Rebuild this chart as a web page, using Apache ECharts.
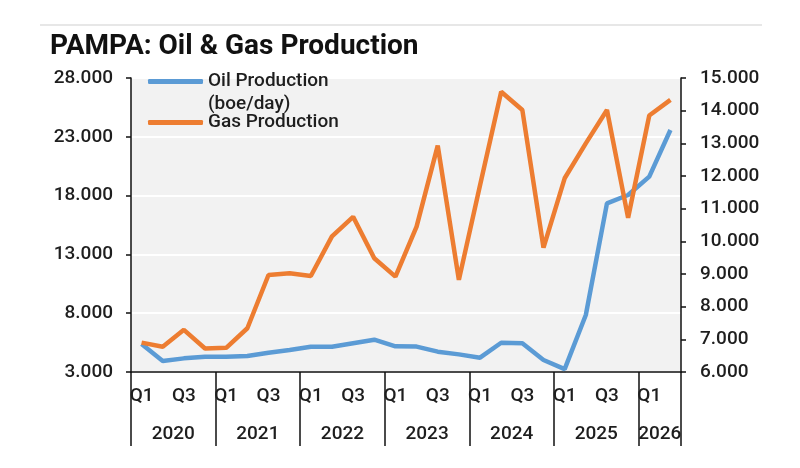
<!DOCTYPE html>
<html>
<head>
<meta charset="utf-8">
<script src="https://cdn.jsdelivr.net/npm/echarts@6/dist/echarts.min.js"></script>
<style>
  html, body { margin: 0; padding: 0; background: #fff; }
  #container { width: 800px; height: 468px; }
</style>
</head>
<body>
<div id="container"></div>
<script>
// quarters Q1 2020 .. Q2 2026
let quarters = ['Q1','Q2','Q3','Q4','Q1','Q2','Q3','Q4','Q1','Q2','Q3','Q4',
                'Q1','Q2','Q3','Q4','Q1','Q2','Q3','Q4','Q1','Q2','Q3','Q4','Q1','Q2'];
let years = ['2020','2021','2022','2023','2024','2025','2026'];
let quartersInYear = [4, 4, 4, 4, 4, 4, 2];

// left axis, boe/day
let oilProduction = [5380, 3940, 4160, 4300, 4300, 4360, 4640, 4870, 5150, 5150, 5450, 5750, 5180,
                     5160, 4730, 4500, 4220, 5490, 5440, 4020, 3250, 7850, 17340, 18050, 19610, 23580];
// right axis
let gasProduction = [6900, 6775, 7290, 6720, 6740, 7340, 8970, 9020, 8940, 10150, 10750, 9480, 8920,
                     10450, 12930, 8820, 11720, 14580, 14020, 9810, 11930, 13000, 14020, 10720, 13850, 14330];

let leftTicks = { min: 3000, max: 28000, interval: 5000 };
let rightTicks = { min: 6000, max: 15000, interval: 1000 };

// one year entry per quarter, plus where each year starts / where its label sits
let yearCats = [];
let yearStarts = {};
let yearLabelAt = {};
years.forEach(function (y, k) {
    let start = yearCats.length;
    yearStarts[start] = true;
    yearLabelAt[start + Math.floor(quartersInYear[k] / 2) - 1] = true;
    for (let q = 0; q < quartersInYear[k]; q++) yearCats.push(y);
});

function fmt(v) {
    return String(v).replace(/\B(?=(\d{3})+(?!\d))/g, '.');
}

let font = 'Roboto';
let ink = '#1e1e1e';
let txt = { fontFamily: font, fontSize: 19, fontWeight: 500, color: ink };

let dom = document.getElementById('container');
let myChart = echarts.init(dom);
let option = {
    animation: false,
    graphic: [{
        type: 'line',
        shape: { x1: 40, y1: 25, x2: 762, y2: 25 },
        style: { stroke: '#cfcfcf', lineWidth: 1 }
    }],
    title: {
        text: 'PAMPA: Oil & Gas Production',
        left: 50,
        top: 33,
        padding: 0,
        textStyle: { fontFamily: font, fontSize: 28, fontWeight: 'bold', color: '#111' }
    },
    legend: [{
        data: ['Oil Production\n(boe/day)'],
        // blank first line keeps the icon level with the first text line
        formatter: function (name) { return '\n' + name; },
        left: 148,
        top: 47,
        padding: 0,
        icon: 'roundRect',
        itemWidth: 55,
        itemHeight: 5,
        textStyle: Object.assign({ lineHeight: 23 }, txt)
    }, {
        data: ['Gas Production'],
        left: 148,
        top: 111,
        padding: 0,
        icon: 'roundRect',
        itemWidth: 55,
        itemHeight: 5,
        textStyle: Object.assign({ lineHeight: 23 }, txt)
    }],
    grid: {
        left: 131,
        right: 119,
        top: 78,
        bottom: 96,
        show: true,
        backgroundColor: '#f2f2f2',
        borderWidth: 0
    },
    xAxis: [{
        type: 'category',
        position: 'bottom',
        data: quarters,
        axisLine: { lineStyle: { color: '#111', width: 1.5 } },
        axisTick: { show: false },
        axisLabel: Object.assign({ interval: 1, margin: 15 }, txt)
    }, {
        type: 'category',
        position: 'bottom',
        data: yearCats,
        axisLine: { show: false },
        axisTick: {
            show: true,
            length: 74,
            interval: function (index) { return !!yearStarts[index]; },
            lineStyle: { color: '#111', width: 1.5 }
        },
        axisLabel: Object.assign({
            interval: function (index) { return !!yearLabelAt[index]; },
            margin: 53,
            padding: [0, 0, 0, 21]
        }, txt)
    }],
    yAxis: [{
        type: 'value',
        position: 'left',
        min: leftTicks.min,
        max: leftTicks.max,
        interval: leftTicks.interval,
        axisLine: { show: true, lineStyle: { color: '#111', width: 1.5 } },
        axisTick: { show: true, length: 5, lineStyle: { color: '#111', width: 1.5 } },
        axisLabel: Object.assign({ margin: 18, formatter: fmt }, txt),
        splitLine: { show: true, lineStyle: { color: '#ffffff', width: 2 } }
    }, {
        type: 'value',
        position: 'right',
        min: rightTicks.min,
        max: rightTicks.max,
        interval: rightTicks.interval,
        axisLine: { show: true, lineStyle: { color: '#111', width: 1.5 } },
        axisTick: { show: true, length: 5, lineStyle: { color: '#111', width: 1.5 } },
        axisLabel: Object.assign({ margin: 19, formatter: fmt }, txt),
        splitLine: { show: false }
    }],
    series: [{
        name: 'Oil Production\n(boe/day)',
        type: 'line',
        xAxisIndex: 0,
        yAxisIndex: 0,
        data: oilProduction,
        symbol: 'none',
        color: '#5b9bd5',
        lineStyle: { width: 4.5, color: '#5b9bd5' }
    }, {
        name: 'Gas Production',
        type: 'line',
        xAxisIndex: 0,
        yAxisIndex: 1,
        data: gasProduction,
        symbol: 'none',
        color: '#ed7d31',
        lineStyle: { width: 4.5, color: '#ed7d31' }
    }]
};
if (option && typeof option === 'object') {
    myChart.setOption(option, true);
}
</script>
</body>
</html>
